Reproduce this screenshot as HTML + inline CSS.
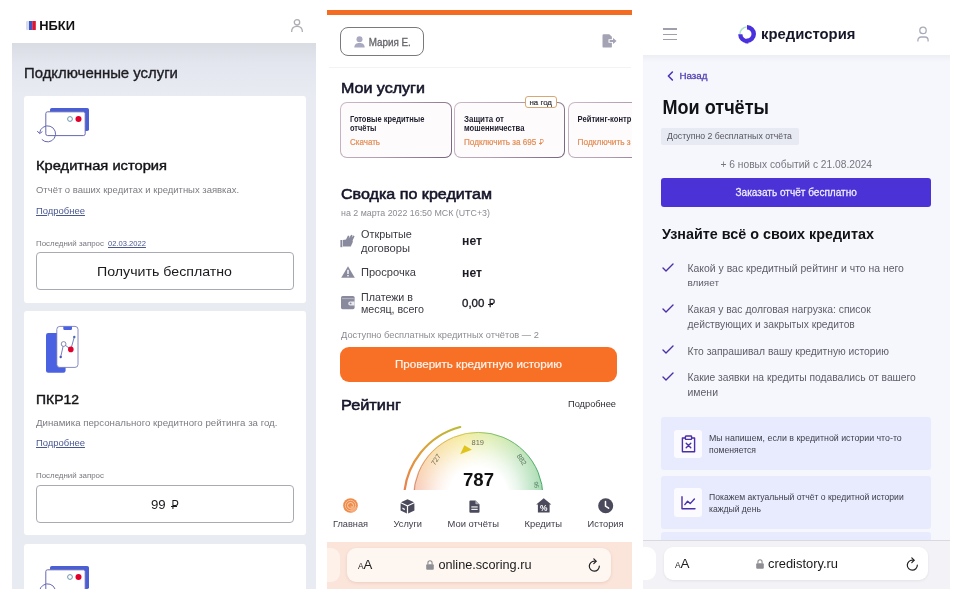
<!DOCTYPE html>
<html lang="ru"><head><meta charset="utf-8"><title>Кредитная история</title>
<style>
html,body{margin:0;padding:0;background:#fff;}
body{width:960px;height:600px;position:relative;overflow:hidden;will-change:transform;font-family:"Liberation Sans",sans-serif;}
.t{position:absolute;white-space:nowrap;line-height:1;display:block;}
.r{position:absolute;box-sizing:border-box;}
svg{position:absolute;overflow:visible;}
</style></head><body>
<div class="r" style="left:12px;top:43px;width:304px;height:546px;background:#e9ebf3;"></div>
<div class="r" style="left:12px;top:43px;width:304px;height:53px;background:linear-gradient(#d9dce3,#e3e6ee 40%,#e9ebf3);"></div>
<svg style="left:25.5px;top:21px" width="10" height="9" viewBox="0 0 10 9"><rect x="0" y="0" width="3.2" height="9" rx="1" fill="#d9dcec"/><rect x="3" y="0" width="3.6" height="9" fill="#3f55c4"/><rect x="6.4" y="0" width="3.4" height="9" fill="#e0142f"/></svg>
<span class="t" style="left:39.30px;top:20.200px;font-size:12.89px;color:#111;font-weight:bold;transform:scaleY(0.970);transform-origin:0 10.00px;">НБКИ</span>
<svg style="left:290px;top:18px" width="14" height="15" viewBox="0 0 14 15" fill="none" stroke="#adadb3" stroke-width="1.3"><circle cx="7" cy="4.3" r="2.7"/><path d="M1.6 14 C1.6 9.6 4 8.4 7 8.4 C10 8.4 12.4 9.6 12.4 14"/></svg>
<span class="t" style="left:24.00px;top:66.000px;font-size:14.91px;color:#1c1c22;-webkit-text-stroke:0.35px #1c1c22;">Подключенные услуги</span>
<div class="r" style="left:24px;top:96px;width:281.5px;height:206.5px;background:#fff;border-radius:3px;"></div>
<svg style="left:38px;top:108px" width="54" height="38" viewBox="0 0 54 38"><rect x="12" y="0" width="39" height="23" rx="1.8" fill="#4a5fd6"/><rect x="7.8" y="3.8" width="39.4" height="23.8" rx="1.8" fill="#fff" stroke="#6668b2" stroke-width="1"/><circle cx="32" cy="11" r="2.4" fill="#fff" stroke="#5b8ba6" stroke-width="0.9"/><circle cx="40.5" cy="11" r="3" fill="#e0002c"/><path d="M1.6 25.2 A8 8 0 1 1 3.8 31.4" fill="none" stroke="#6668b2" stroke-width="1"/><path d="M-0.8 23 L1.6 25.6 L4.4 23.6" fill="none" stroke="#6668b2" stroke-width="1"/></svg>
<span class="t" style="left:36.00px;top:158.300px;font-size:14.69px;color:#141418;transform:scaleY(0.905);transform-origin:0 12.00px;-webkit-text-stroke:0.45px #141418;">Кредитная история</span>
<span class="t" style="left:36.00px;top:185.000px;font-size:9.47px;color:#7b7b82;">Отчёт о ваших кредитах и кредитных заявках.</span>
<span class="t" style="left:36.00px;top:206.000px;font-size:9.45px;color:#4a5890;text-decoration:underline;">Подробнее</span>
<span class="t" style="left:36.00px;top:240.000px;font-size:7.91px;color:#77777e;transform:scaleY(0.948);transform-origin:0 6.00px;">Последний запрос</span>
<span class="t" style="left:108.00px;top:240.000px;font-size:7.59px;color:#4a5890;text-decoration:underline;">02.03.2022</span>
<div class="r" style="left:36px;top:252px;width:258px;height:38px;background:#fff;border:1.4px solid #a9abb2;border-radius:4px;"></div>
<span class="t" style="left:97.00px;top:264.000px;font-size:14.19px;color:#1a1a1e;transform:scaleY(0.952);transform-origin:0 12.00px;">Получить бесплатно</span>
<div class="r" style="left:24px;top:310.5px;width:281.5px;height:224.5px;background:#fff;border-radius:3px;"></div>
<svg style="left:46px;top:326px" width="33" height="48" viewBox="0 0 33 48"><rect x="0" y="7" width="19.6" height="39.8" rx="2.2" fill="#4a62e2"/><rect x="10.8" y="0.4" width="21.2" height="41" rx="3" fill="#fff" stroke="#6a6cb4" stroke-width="0.8"/><path d="M17.3 0.4 h8.7 v2.4 a1.2 1.2 0 0 1 -1.2 1.2 h-6.3 a1.2 1.2 0 0 1 -1.2 -1.2z" fill="#4a62e2"/><path d="M14.7 31 L17.6 18 L24.8 23.4 L28.3 11" fill="none" stroke="#5a5eb0" stroke-width="0.8"/><circle cx="14.7" cy="31" r="1.2" fill="#4a55b8"/><circle cx="28.3" cy="11" r="1.2" fill="#4a6ab8"/><circle cx="17.6" cy="18" r="2.4" fill="#fff" stroke="#6a6c9c" stroke-width="0.8"/><circle cx="24.8" cy="23.4" r="2.8" fill="#e0002c"/></svg>
<span class="t" style="left:36.00px;top:392.700px;font-size:13.96px;color:#141418;transform:scaleY(0.953);transform-origin:0 11.00px;-webkit-text-stroke:0.45px #141418;">ПКР12</span>
<span class="t" style="left:36.00px;top:418.400px;font-size:9.69px;color:#7b7b82;">Динамика персонального кредитного рейтинга за год.</span>
<span class="t" style="left:36.00px;top:438.300px;font-size:9.45px;color:#4a5890;text-decoration:underline;">Подробнее</span>
<span class="t" style="left:36.00px;top:472.000px;font-size:7.91px;color:#77777e;transform:scaleY(0.948);transform-origin:0 6.00px;">Последний запрос</span>
<div class="r" style="left:36px;top:485px;width:258px;height:38px;background:#fff;border:1.4px solid #a9abb2;border-radius:4px;"></div>
<span class="t" style="left:150.90px;top:498.300px;font-size:13.22px;color:#1a1a1e;">99</span>
<span class="t" style="left:171.61px;top:500.300px;font-size:11.08px;color:#1a1a1e;transform:scaleY(1.191);transform-origin:0 9.00px;">Р</span>
<div class="r" style="left:170.60px;top:506.10px;width:6.05px;height:1.12px;background:#1a1a1e;"></div>
<div class="r" style="left:24px;top:544px;width:281.5px;height:45px;background:#fff;border-radius:3px 3px 0 0;"></div>
<div class="r" style="left:24px;top:544px;width:281.5px;height:45px;overflow:hidden;">
<svg style="left:14px;top:22px" width="54" height="38" viewBox="0 0 54 38"><rect x="12" y="0" width="39" height="23" rx="1.8" fill="#4a5fd6"/><rect x="7.8" y="3.8" width="39.4" height="23.8" rx="1.8" fill="#fff" stroke="#6668b2" stroke-width="1"/><circle cx="32" cy="11" r="2.4" fill="#fff" stroke="#5b8ba6" stroke-width="0.9"/><circle cx="40.5" cy="11" r="3" fill="#e0002c"/><path d="M1.6 25.2 A8 8 0 1 1 3.8 31.4" fill="none" stroke="#6668b2" stroke-width="1"/><path d="M-0.8 23 L1.6 25.6 L4.4 23.6" fill="none" stroke="#6668b2" stroke-width="1"/></svg>
</div>
<div class="r" style="left:327px;top:10px;width:304.5px;height:5px;background:#f36c22;"></div>
<div class="r" style="left:340.3px;top:27px;width:83.69999999999999px;height:28.5px;background:#fff;border:1.7px solid #7a7a7e;border-radius:8px;"></div>
<svg style="left:353.5px;top:36px" width="11" height="12" viewBox="0 0 11 12" fill="#a9a9c2"><circle cx="5.5" cy="3.2" r="3"/><path d="M0.3 11.6 C0.3 8 2.4 6.9 5.5 6.9 C8.6 6.9 10.7 8 10.7 11.6z"/></svg>
<span class="t" style="left:368.70px;top:37.500px;font-size:9.84px;color:#66666c;transform:scaleY(1.118);transform-origin:0 8.00px;-webkit-text-stroke:0.3px #66666c;">Мария Е.</span>
<svg style="left:602px;top:34px" width="15" height="14" viewBox="0 0 15 14" fill="#a3a3b4"><path d="M0.5 1.4 a1.2 1.2 0 0 1 1.2 -1.2 h5.6 l2.6 2.6 v2.4 h-3.4 v3.6 h3.4 v3.6 a1.2 1.2 0 0 1 -1.2 1.2 h-7 a1.2 1.2 0 0 1 -1.2 -1.2z"/><path d="M7.6 6.1 h3.4 v-2 l3.6 2.9 l-3.6 2.9 v-2 h-3.4z"/></svg>
<div class="r" style="left:329px;top:66.5px;width:302px;height:1.0px;background:#f3f3f5;"></div>
<span class="t" style="left:341.00px;top:79.000px;font-size:16.05px;color:#15152a;transform:scaleY(0.959);transform-origin:0 14.00px;-webkit-text-stroke:0.6px #15152a;">Мои услуги</span>
<div class="r" style="left:340px;top:102px;width:111.5px;height:55.5px;border:1.3px solid transparent;border-radius:7px;background:linear-gradient(#fdfbfc,#fdfbfc) padding-box,linear-gradient(115deg,#cdb9c8 0%,#b49fb2 45%,#75637f 100%) border-box;"></div>
<div class="r" style="left:454px;top:102px;width:111px;height:55.5px;border:1.3px solid transparent;border-radius:7px;background:linear-gradient(#fdfbfc,#fdfbfc) padding-box,linear-gradient(115deg,#cdb9c8 0%,#b49fb2 45%,#75637f 100%) border-box;"></div>
<div class="r" style="left:568px;top:102px;width:112px;height:55.5px;border:1.3px solid transparent;border-radius:7px;background:linear-gradient(#fdfbfc,#fdfbfc) padding-box,linear-gradient(115deg,#cdb9c8 0%,#b49fb2 45%,#75637f 100%) border-box;"></div>
<div class="r" style="left:632px;top:95px;width:58px;height:65px;background:#fff;"></div>
<div class="r" style="left:524.5px;top:96px;width:32.5px;height:12px;background:#fff;border:1px solid #d8a874;border-radius:3px;"></div>
<span class="t" style="left:529.50px;top:99.000px;font-size:7.90px;color:#33333a;-webkit-text-stroke:0.2px #33333a;">на год</span>
<span class="t" style="left:350.00px;top:115.700px;font-size:7.51px;color:#1e1e2c;font-weight:bold;transform:scaleY(1.144);transform-origin:0 6.00px;">Готовые кредитные</span>
<span class="t" style="left:350.00px;top:125.200px;font-size:7.45px;color:#1e1e2c;font-weight:bold;transform:scaleY(1.154);transform-origin:0 6.00px;">отчёты</span>
<span class="t" style="left:350.00px;top:139.300px;font-size:8.00px;color:#e38c54;transform:scaleY(1.050);transform-origin:0 6.00px;-webkit-text-stroke:0.2px #e38c54;">Скачать</span>
<span class="t" style="left:464.00px;top:115.700px;font-size:7.94px;color:#1e1e2c;font-weight:bold;transform:scaleY(1.084);transform-origin:0 6.00px;">Защита от</span>
<span class="t" style="left:464.00px;top:125.200px;font-size:7.68px;color:#1e1e2c;font-weight:bold;transform:scaleY(1.120);transform-origin:0 6.00px;">мошенничества</span>
<span class="t" style="left:464.00px;top:139.300px;font-size:8.13px;color:#e38c54;transform:scaleY(1.033);transform-origin:0 6.00px;-webkit-text-stroke:0.2px #e38c54;">Подключить за 695</span>
<span class="t" style="left:539.40px;top:140.300px;font-size:6.60px;color:#e38c54;transform:scaleY(1.243);transform-origin:0 5.00px;">Р</span>
<div class="r" style="left:538.80px;top:143.26px;width:3.60px;height:0.80px;background:#e38c54;"></div>
<div class="r" style="left:570px;top:102px;width:62px;height:56px;overflow:hidden;">
<span class="t" style="left:7.60px;top:13.700px;font-size:7.61px;color:#1e1e2c;font-weight:bold;transform:scaleY(1.131);transform-origin:0 6.00px;">Рейтинг-контр</span>
<span class="t" style="left:7.60px;top:36.300px;font-size:8.31px;color:#e38c54;-webkit-text-stroke:0.2px #e38c54;">Подключить з</span>
</div>
<span class="t" style="left:341.00px;top:184.700px;font-size:16.08px;color:#15152a;transform:scaleY(0.945);transform-origin:0 14.00px;-webkit-text-stroke:0.6px #15152a;">Сводка по кредитам</span>
<span class="t" style="left:341.00px;top:208.500px;font-size:8.85px;color:#8b8b92;">на 2 марта 2022 16:50 МСК (UTC+3)</span>
<svg style="left:340px;top:234px" width="15" height="14" viewBox="0 0 15 14" fill="#8a8a9e"><rect x="0.4" y="6" width="1.9" height="7.2"/><path d="M2.9 5.9 L6 5.6 L8 1.5 L9.4 1.9 L8.7 4.6 L11.2 0.7 L12.6 1.3 L11.7 3.6 L13.4 1.5 L14.6 2.3 L12.7 6.2 L12.8 8 L10.8 12.5 L2.9 12.5z"/></svg>
<span class="t" style="left:361.00px;top:229.000px;font-size:10.89px;color:#3a3a42;">Открытые</span>
<span class="t" style="left:361.00px;top:242.700px;font-size:11.16px;color:#3a3a42;">договоры</span>
<span class="t" style="left:462.00px;top:235.000px;font-size:12.22px;color:#1c1c26;font-weight:bold;transform:scaleY(1.064);transform-origin:0 10.00px;">нет</span>
<svg style="left:341px;top:266px" width="14" height="12" viewBox="0 0 14 12"><path d="M7 0.3 L13.8 11.8 H0.2z" fill="#8a8a9e"/><rect x="6.3" y="3.8" width="1.4" height="4.2" fill="#fff"/><rect x="6.3" y="9" width="1.4" height="1.4" fill="#fff"/></svg>
<span class="t" style="left:361.00px;top:267.000px;font-size:11.09px;color:#3a3a42;">Просрочка</span>
<span class="t" style="left:462.00px;top:267.000px;font-size:12.22px;color:#1c1c26;font-weight:bold;transform:scaleY(1.064);transform-origin:0 10.00px;">нет</span>
<svg style="left:341px;top:296px" width="14" height="13.5" viewBox="0 0 14 13.5"><rect x="0" y="0" width="13.6" height="13.2" rx="1.6" fill="#8a8a9e"/><rect x="0.8" y="2.2" width="12" height="0.9" fill="#b9b9c6"/><path d="M9.2 5.4 h4.4 v4 h-4.4 a2 2 0 0 1 0 -4z" fill="#e9e9ee"/><circle cx="9.6" cy="7.4" r="0.9" fill="#8a8a9e"/></svg>
<span class="t" style="left:361.00px;top:291.500px;font-size:10.69px;color:#3a3a42;">Платежи в</span>
<span class="t" style="left:361.00px;top:304.000px;font-size:10.70px;color:#3a3a42;">месяц, всего</span>
<span class="t" style="left:462.00px;top:298.000px;font-size:11.51px;color:#1c1c26;-webkit-text-stroke:0.35px #1c1c26;">0,00</span>
<span class="t" style="left:489.05px;top:300.000px;font-size:9.37px;color:#1c1c26;transform:scaleY(1.249);transform-origin:0 7.00px;-webkit-text-stroke:0.3px #1c1c26;">Р</span>
<div class="r" style="left:488.20px;top:304.16px;width:5.11px;height:0.99px;background:#1c1c26;"></div>
<span class="t" style="left:341.00px;top:330.700px;font-size:9.29px;color:#8b8b92;">Доступно бесплатных кредитных отчётов — 2</span>
<div class="r" style="left:340px;top:347px;width:277px;height:35px;background:#f86f26;border-radius:9px;"></div>
<span class="t" style="left:395.00px;top:359.400px;font-size:11.59px;color:#fff4ec;transform:scaleY(0.949);transform-origin:0 9.00px;-webkit-text-stroke:0.2px #fff4ec;">Проверить кредитную историю</span>
<span class="t" style="left:341.00px;top:395.500px;font-size:16.34px;color:#15152a;transform:scaleY(0.930);transform-origin:0 14.00px;-webkit-text-stroke:0.6px #15152a;">Рейтинг</span>
<span class="t" style="left:568.00px;top:400.000px;font-size:9.26px;color:#2e2e36;">Подробнее</span>
<div class="r" style="left:395px;top:420px;width:170px;height:70px;overflow:hidden;"><div class="r" style="left:18.4px;top:12px;width:130px;height:130px;border-radius:50%;background:radial-gradient(circle closest-side,#fff 0,#fff 46%,rgba(255,255,255,0.72) 64%,rgba(255,255,255,0.3) 84%,rgba(255,255,255,0) 100%),conic-gradient(from 270deg,#f7c6b8 0deg,#f9dcae 40deg,#f6eb9e 75deg,#dfeeb0 100deg,#bbe3ba 140deg,#a2d9b0 180deg);"></div><svg style="left:0;top:0" width="170" height="70" viewBox="395 420 170 70" fill="none"><defs><linearGradient id="og" x1="404" y1="490" x2="460" y2="427" gradientUnits="userSpaceOnUse"><stop offset="0" stop-color="#e9804e"/><stop offset="0.5" stop-color="#dda03c"/><stop offset="1" stop-color="#b9bc34"/></linearGradient><linearGradient id="ig" x1="413" y1="0" x2="543" y2="0" gradientUnits="userSpaceOnUse"><stop offset="0" stop-color="#d68874"/><stop offset="0.22" stop-color="#dcb45c"/><stop offset="0.42" stop-color="#c8cc5c"/><stop offset="0.6" stop-color="#86c26c"/><stop offset="1" stop-color="#46a86c"/></linearGradient></defs><circle cx="478.4" cy="497" r="64.6" stroke="url(#ig)" stroke-width="1"/><path d="M404.06 497 A75.5 75.5 0 0 1 460.2 427" stroke="url(#og)" stroke-width="2.2" stroke-linecap="round" transform="translate(0,0)"/><path d="M460.2 454.2 L464.4 445.2 L471.9 449.8z" fill="#e0c41c"/></svg></div>
<span class="t" style="left:471.50px;top:438.500px;font-size:7.49px;color:#6d6d58;transform:scaleY(0.934);transform-origin:0 6.00px;">819</span>
<span class="t" style="left:430.00px;top:455.500px;font-size:7.00px;color:#746a4c;transform:rotate(-56deg);transform-origin:50% 50%;">727</span>
<span class="t" style="left:515.50px;top:455.500px;font-size:7.00px;color:#55725a;transform:rotate(56deg);transform-origin:50% 50%;">882</span>
<span class="t" style="left:533.00px;top:482.000px;font-size:6.00px;color:#4f7a5c;transform:rotate(80deg);transform-origin:50% 50%;">95</span>
<span class="t" style="left:463.00px;top:471.200px;font-size:18.58px;color:#111;font-weight:bold;transform:scaleY(0.969);transform-origin:0 15.00px;">787</span>
<div class="r" style="left:327px;top:490px;width:304px;height:52px;background:#fff;"></div>
<svg style="left:343px;top:497.5px" width="15" height="15" viewBox="0 0 15 15"><circle cx="7.5" cy="7.5" r="7.3" fill="#f08a4a"/><circle cx="7.5" cy="7.5" r="5.2" fill="none" stroke="#f9c9a4" stroke-width="0.9"/><circle cx="7.5" cy="7.5" r="3" fill="none" stroke="#fbdcc2" stroke-width="0.9"/><path d="M7.5 7.5 L7.5 14.6 A7.3 7.3 0 0 0 14.4 9.5z" fill="#f7b184" opacity="0.8"/></svg>
<span class="t" style="left:333.00px;top:520.000px;font-size:9.20px;color:#3c3c48;transform:scaleY(1.033);transform-origin:0 7.00px;">Главная</span>
<svg style="left:400px;top:498.5px" width="15" height="15" viewBox="0 0 15 15" fill="#4a4a5c"><path d="M7.5 0.2 L14 3.2 L7.5 6.2 L1 3.2z"/><path d="M0.6 4.3 L6.9 7.3 V14.6 L0.6 11.4z"/><path d="M14.4 4.3 L8.1 7.3 V14.6 L14.4 11.4z"/><rect x="2.4" y="9" width="2.4" height="1.5" fill="#fff" transform="skewY(26) translate(0,-1.6)"/></svg>
<span class="t" style="left:393.50px;top:520.000px;font-size:9.27px;color:#3c3c48;">Услуги</span>
<svg style="left:468.5px;top:499.5px" width="11" height="13" viewBox="0 0 11 13"><path d="M0.4 1.4 a1 1 0 0 1 1 -1 h5.2 l3.9 3.9 v7.4 a1 1 0 0 1 -1 1 h-8.1 a1 1 0 0 1 -1 -1z" fill="#4a4a5c"/><path d="M6.4 0.4 v3.1 a0.8 0.8 0 0 0 0.8 0.8 h3.3z" fill="#fff" opacity="0.55"/><rect x="2.3" y="6.4" width="6.4" height="1.1" fill="#fff"/><rect x="2.3" y="8.8" width="6.4" height="1.1" fill="#fff"/></svg>
<span class="t" style="left:447.50px;top:519.000px;font-size:9.39px;color:#3c3c48;">Мои отчёты</span>
<svg style="left:536px;top:498px" width="15.5" height="15" viewBox="0 0 15.5 15"><path d="M7.75 0.2 L15.3 6.6 H13.6 V14.6 H1.9 V6.6 H0.2z" fill="#4a4a5c"/><text x="7.75" y="12.8" font-family="Liberation Sans, sans-serif" font-size="8.4" font-weight="bold" text-anchor="middle" fill="#fff">%</text></svg>
<span class="t" style="left:524.50px;top:519.000px;font-size:9.39px;color:#3c3c48;">Кредиты</span>
<svg style="left:598.4px;top:498px" width="15.4" height="15.4" viewBox="0 0 15.4 15.4"><circle cx="7.7" cy="7.7" r="7.5" fill="#4a4a5c"/><path d="M7.5 3.6 V8 L10.6 10.2" fill="none" stroke="#fff" stroke-width="1.5" stroke-linecap="round"/></svg>
<span class="t" style="left:587.60px;top:520.000px;font-size:9.28px;color:#3c3c48;">История</span>
<div class="r" style="left:327px;top:542px;width:304.6px;height:47px;background:#fbe4da;"></div>
<div class="r" style="left:327px;top:548px;width:13px;height:34px;background:#fdf1ea;border-radius:0 9px 9px 0;"></div>
<div class="r" style="left:347px;top:548px;width:264px;height:34px;background:#fef6f1;border-radius:9px;box-shadow:0 1px 3px rgba(200,140,110,0.25);"></div>
<span class="t" style="left:358.00px;top:562.000px;font-size:8.40px;color:#222;">A</span>
<span class="t" style="left:363.60px;top:558.000px;font-size:13.19px;color:#222;transform:scaleY(0.947);transform-origin:0 11.00px;">A</span>
<svg style="left:426px;top:559.5px" width="8" height="10" viewBox="0 0 8 10"><rect x="0.2" y="4.2" width="7.6" height="5.6" rx="1" fill="#8e8e93"/><path d="M1.9 4.6 V2.9 a2.1 2.1 0 0 1 4.2 0 V4.6" fill="none" stroke="#8e8e93" stroke-width="1.1"/></svg>
<span class="t" style="left:438.40px;top:559.000px;font-size:12.70px;color:#1a1a1a;">online.scoring.ru</span>
<svg style="left:588px;top:558px" width="13" height="14" viewBox="0 0 13 14" fill="none" stroke="#222" stroke-width="1.2" stroke-linecap="round"><path d="M11.3 8.2 A5 5 0 1 1 6.4 3.2 H7.4"/><path d="M5.8 0.8 L8.2 3.2 L5.8 5.6"/></svg>
<div class="r" style="left:642.5px;top:55px;width:307.0px;height:485px;background:#f6f7fd;"></div>
<div class="r" style="left:642.5px;top:55px;width:307.0px;height:7px;background:linear-gradient(#eceef4,#f6f7fd);"></div>
<div class="r" style="left:663px;top:28.3px;width:14px;height:1.5px;background:#a0a0ac;"></div>
<div class="r" style="left:663px;top:33.5px;width:14px;height:1.5px;background:#a0a0ac;"></div>
<div class="r" style="left:663px;top:38.8px;width:14px;height:1.5px;background:#a0a0ac;"></div>
<svg style="left:737px;top:24px" width="20" height="20" viewBox="737 24 20 20" fill="none"><path d="M739.9 34.3 A7.2 7.2 0 0 1 746.6 27" stroke="#a9e4c8" stroke-width="1.6"/><path d="M747 27.25 A6.75 6.75 0 0 1 747 40.75" stroke="#4a31de" stroke-width="4.5"/><path d="M747.6 41.1 A6.9 6.9 0 0 1 740.3 34.2" stroke="#4a31de" stroke-width="4.3"/><path d="M746.2 38.2 L748.6 43.6 L745 43.2z" fill="#4a31de"/></svg>
<span class="t" style="left:761.00px;top:26.600px;font-size:14.84px;color:#17172a;font-weight:bold;transform:scaleY(0.944);transform-origin:0 12.00px;">кредистория</span>
<svg style="left:915.5px;top:25.5px" width="14" height="17" viewBox="0 0 14 17" fill="none" stroke="#a9abb8" stroke-width="1.3"><circle cx="7" cy="4.4" r="3.2"/><path d="M1.9 15.6 V14.2 a3.2 3.2 0 0 1 3.2 -3.2 h3.8 a3.2 3.2 0 0 1 3.2 3.2 V15.6"/></svg>
<svg style="left:667px;top:70.5px" width="7" height="10" viewBox="0 0 7 10" fill="none" stroke="#4a35b5" stroke-width="1.6" stroke-linecap="round" stroke-linejoin="round"><path d="M5.4 1 L1.4 5 L5.4 9"/></svg>
<span class="t" style="left:679.50px;top:71.000px;font-size:9.77px;color:#4f3fb4;-webkit-text-stroke:0.3px #4f3fb4;">Назад</span>
<span class="t" style="left:662.50px;top:99.000px;font-size:18.07px;color:#111118;font-weight:bold;transform:scaleY(1.079);transform-origin:0 15.00px;">Мои отчёты</span>
<div class="r" style="left:661px;top:127.5px;width:138px;height:17.5px;background:#e7e9f3;border-radius:2px;"></div>
<span class="t" style="left:667.00px;top:132.000px;font-size:8.72px;color:#55555e;">Доступно 2 бесплатных отчёта</span>
<span class="t" style="left:720.50px;top:159.500px;font-size:10.22px;color:#75757e;">+ 6 новых событий с 21.08.2024</span>
<div class="r" style="left:661px;top:177.5px;width:270px;height:29.5px;background:#4a32d6;border-radius:3px;"></div>
<span class="t" style="left:735.50px;top:188.000px;font-size:10.07px;color:#f1eefe;transform:scaleY(1.042);transform-origin:0 8.00px;-webkit-text-stroke:0.25px #f1eefe;">Заказать отчёт бесплатно</span>
<span class="t" style="left:662.00px;top:227.000px;font-size:14.35px;color:#111118;font-weight:bold;">Узнайте всё о своих кредитах</span>
<svg style="left:661.5px;top:262.5px" width="12" height="9" viewBox="0 0 12 9" fill="none" stroke="#4a2fa8" stroke-width="1.4" stroke-linecap="round" stroke-linejoin="round"><path d="M1 5 L4 8 L11 1"/></svg>
<span class="t" style="left:687.50px;top:264.000px;font-size:10.43px;color:#5e5e68;transform:scaleY(0.959);transform-origin:0 8.00px;">Какой у вас кредитный рейтинг и что на него</span>
<span class="t" style="left:687.50px;top:278.000px;font-size:9.93px;color:#5e5e68;">влияет</span>
<svg style="left:661.5px;top:303.5px" width="12" height="9" viewBox="0 0 12 9" fill="none" stroke="#4a2fa8" stroke-width="1.4" stroke-linecap="round" stroke-linejoin="round"><path d="M1 5 L4 8 L11 1"/></svg>
<span class="t" style="left:687.50px;top:305.000px;font-size:10.34px;color:#5e5e68;transform:scaleY(0.968);transform-origin:0 8.00px;">Какая у вас долговая нагрузка: список</span>
<span class="t" style="left:687.50px;top:319.500px;font-size:10.28px;color:#5e5e68;">действующих и закрытых кредитов</span>
<svg style="left:661.5px;top:345px" width="12" height="9" viewBox="0 0 12 9" fill="none" stroke="#4a2fa8" stroke-width="1.4" stroke-linecap="round" stroke-linejoin="round"><path d="M1 5 L4 8 L11 1"/></svg>
<span class="t" style="left:687.50px;top:346.500px;font-size:10.27px;color:#5e5e68;">Кто запрашивал вашу кредитную историю</span>
<svg style="left:661.5px;top:371.5px" width="12" height="9" viewBox="0 0 12 9" fill="none" stroke="#4a2fa8" stroke-width="1.4" stroke-linecap="round" stroke-linejoin="round"><path d="M1 5 L4 8 L11 1"/></svg>
<span class="t" style="left:687.50px;top:372.500px;font-size:10.30px;color:#5e5e68;">Какие заявки на кредиты подавались от вашего</span>
<span class="t" style="left:687.50px;top:387.700px;font-size:10.47px;color:#5e5e68;transform:scaleY(0.955);transform-origin:0 8.00px;">имени</span>
<div class="r" style="left:661px;top:417px;width:270px;height:53px;background:#e7ebfd;border-radius:3px;"></div>
<div class="r" style="left:674px;top:429.5px;width:27.5px;height:28.5px;background:#fbfbff;border-radius:3px;"></div>
<svg style="left:680.5px;top:435px" width="15" height="18" viewBox="0 0 15 18" fill="none" stroke="#4a2fa8" stroke-width="1.4" stroke-linejoin="round"><path d="M4.2 3 H1.4 V16.8 H13.6 V3 H10.8"/><rect x="4.4" y="1" width="6.2" height="3.4" rx="0.6"/><path d="M5.2 8.2 L9.8 12.8 M9.8 8.2 L5.2 12.8" stroke-linecap="round"/></svg>
<span class="t" style="left:709.00px;top:434.000px;font-size:8.82px;color:#3e3e4a;transform:scaleY(0.963);transform-origin:0 7.00px;">Мы напишем, если в кредитной истории что-то</span>
<span class="t" style="left:709.00px;top:446.000px;font-size:8.63px;color:#3e3e4a;">поменяется</span>
<div class="r" style="left:661px;top:476px;width:270px;height:53px;background:#e7ebfd;border-radius:3px;"></div>
<div class="r" style="left:674px;top:488px;width:27.5px;height:29px;background:#fbfbff;border-radius:3px;"></div>
<svg style="left:680.5px;top:496px" width="15" height="14" viewBox="0 0 15 14" fill="none" stroke="#4a2fa8" stroke-width="1.4" stroke-linecap="round" stroke-linejoin="round"><path d="M1 0.8 V12.8 H14"/><path d="M3.8 8.6 L6.6 5.2 L9.2 7.6 L13.4 3"/></svg>
<span class="t" style="left:709.00px;top:493.000px;font-size:8.61px;color:#3e3e4a;">Покажем актуальный отчёт о кредитной истории</span>
<span class="t" style="left:709.00px;top:505.000px;font-size:8.61px;color:#3e3e4a;">каждый день</span>
<div class="r" style="left:661px;top:532px;width:270px;height:9px;background:#e7ebfd;border-radius:3px 3px 0 0;"></div>
<div class="r" style="left:642.5px;top:540px;width:307.0px;height:48.5px;background:#f3f3f7;border-top:1px solid #d9d9df;"></div>
<div class="r" style="left:642.5px;top:547px;width:13.5px;height:33px;background:#fff;border-radius:0 9px 9px 0;"></div>
<div class="r" style="left:664px;top:547px;width:264px;height:33px;background:#fff;border-radius:9px;box-shadow:0 1px 3px rgba(0,0,0,0.07);"></div>
<span class="t" style="left:675.00px;top:561.000px;font-size:8.40px;color:#222;">A</span>
<span class="t" style="left:680.60px;top:557.000px;font-size:13.49px;color:#222;transform:scaleY(0.926);transform-origin:0 11.00px;">A</span>
<svg style="left:756px;top:558.5px" width="8" height="10" viewBox="0 0 8 10"><rect x="0.2" y="4.2" width="7.6" height="5.6" rx="1" fill="#8e8e93"/><path d="M1.9 4.6 V2.9 a2.1 2.1 0 0 1 4.2 0 V4.6" fill="none" stroke="#8e8e93" stroke-width="1.1"/></svg>
<span class="t" style="left:768.00px;top:558.000px;font-size:12.90px;color:#1a1a1a;">credistory.ru</span>
<svg style="left:906px;top:556.5px" width="13" height="14" viewBox="0 0 13 14" fill="none" stroke="#222" stroke-width="1.2" stroke-linecap="round"><path d="M11.3 8.2 A5 5 0 1 1 6.4 3.2 H7.4"/><path d="M5.8 0.8 L8.2 3.2 L5.8 5.6"/></svg>
</body></html>
